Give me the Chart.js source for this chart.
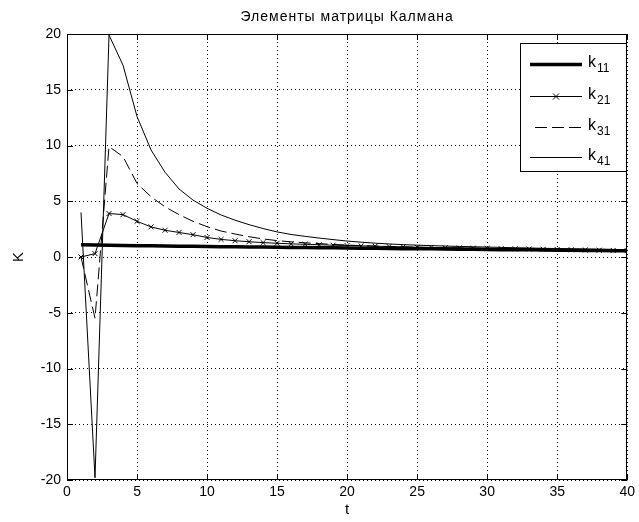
<!DOCTYPE html>
<html>
<head>
<meta charset="utf-8">
<script src="https://cdn.jsdelivr.net/npm/chart.js@4.4.0/dist/chart.umd.min.js"></script>
<style>
html,body{margin:0;padding:0;background:#fff}
canvas{display:block}
</style>
</head>
<body>
<canvas id="kalman" width="639" height="522"></canvas>
<script>
// time steps
const t=[1,2,3,4,5,6,7,8,9,10,11,12,13,14,15,16,17,18,19,20,21,22,23,24,25,26,27,28,29,30,31,32,33,34,35,36,37,38,39,40];
// gain elements
const k11=[1.10,1.08,1.06,1.04,1.02,1.00,0.99,0.97,0.96,0.95,0.93,0.92,0.90,0.89,0.87,0.86,0.85,0.83,0.82,0.81,0.79,0.78,0.77,0.75,0.74,0.73,0.71,0.70,0.69,0.68,0.66,0.65,0.64,0.63,0.61,0.60,0.59,0.58,0.57,0.55];
const k21=[0.0,0.3,3.9,3.8,3.2,2.7,2.4,2.2,2.0,1.75,1.58,1.46,1.37,1.29,1.23,1.18,1.14,1.10,1.06,1.03,1.00,0.97,0.94,0.91,0.88,0.86,0.83,0.81,0.79,0.77,0.75,0.73,0.71,0.69,0.67,0.65,0.63,0.61,0.59,0.57];
const k31=[0.0,-5.5,9.9,9.0,6.6,5.4,4.5,3.8,3.2,2.72,2.33,2.06,1.82,1.62,1.47,1.36,1.27,1.20,1.13,1.07,1.02,0.98,0.94,0.91,0.88,0.85,0.83,0.81,0.79,0.77,0.75,0.73,0.71,0.70,0.68,0.67,0.65,0.64,0.62,0.61];
const k41=[4.0,-19.8,19.9,17.2,12.6,9.6,7.6,6.1,5.1,4.37,3.77,3.3,2.9,2.55,2.25,2.02,1.85,1.70,1.56,1.43,1.33,1.24,1.17,1.11,1.06,1.02,0.98,0.95,0.92,0.89,0.86,0.83,0.81,0.78,0.76,0.74,0.72,0.70,0.68,0.66];
// axis ticks
const xTicks=[0,5,10,15,20,25,30,35,40];
const yTicks=[-20,-15,-10,-5,0,5,10,15,20];
const legendNames=["11","21","31","41"];
const title="Элементы матрицы Калмана";

const FONT='"Liberation Sans",Arial,sans-serif';
const pts=arr=>arr.map((v,i)=>({x:t[i],y:v}));

// matlab-style frame, inward ticks, title and legend with subscripts
const matlabFrame={
  id:"matlabFrame",
  afterDatasetsDraw(chart){
    const {ctx,chartArea:a,scales:{x,y}}=chart;
    ctx.save();
    ctx.strokeStyle="#000";ctx.lineWidth=1;ctx.setLineDash([]);
    ctx.strokeRect(Math.round(a.left)+0.5,Math.round(a.top)+0.5,Math.round(a.right-a.left)-1,Math.round(a.bottom-a.top)-1);
    ctx.beginPath();
    xTicks.forEach(v=>{const px=Math.round(x.getPixelForValue(v))+0.5;
      ctx.moveTo(px,a.bottom);ctx.lineTo(px,a.bottom-6);
      ctx.moveTo(px,a.top);ctx.lineTo(px,a.top+6);});
    yTicks.forEach(v=>{const py=Math.round(y.getPixelForValue(v))+0.5;
      ctx.moveTo(a.left,py);ctx.lineTo(a.left+6,py);
      ctx.moveTo(a.right,py);ctx.lineTo(a.right-6,py);});
    ctx.stroke();
    ctx.fillStyle="#000";ctx.font="14px "+FONT;ctx.textAlign="center";ctx.textBaseline="middle";
    ctx.letterSpacing="1px";
    ctx.fillText(title,(a.left+a.right)/2,17);
    ctx.restore();
  },
  afterDraw(chart){
    const ctx=chart.ctx;
    const bx=520.5,by=43.5,bw=106,bh=128;
    ctx.save();
    ctx.fillStyle="#fff";ctx.fillRect(bx,by,bw,bh);
    ctx.strokeStyle="#000";ctx.lineWidth=1;ctx.strokeRect(bx,by,bw,bh);
    const rows=[64,96,127,157];
    chart.data.datasets.forEach((ds,i)=>{
      const yy=rows[i]+0.5;
      ctx.beginPath();
      ctx.lineWidth=ds.borderWidth;ctx.setLineDash(ds.borderDash||[]);
      ctx.moveTo(i===2?535:530,yy);ctx.lineTo(582,yy);ctx.stroke();
      ctx.setLineDash([]);
      if(ds.pointRadius){ctx.lineWidth=1;ctx.beginPath();
        ctx.moveTo(553,yy-3);ctx.lineTo(559,yy+3);ctx.moveTo(559,yy-3);ctx.lineTo(553,yy+3);ctx.stroke();}
      ctx.fillStyle="#000";ctx.textBaseline="middle";ctx.textAlign="left";
      ctx.font="16px "+FONT;ctx.fillText("k",588,rows[i]-1);
      ctx.font="12px "+FONT;ctx.fillText(legendNames[i],597,rows[i]+5);
    });
    ctx.restore();
  }
};

new Chart(document.getElementById("kalman"),{
  type:"line",
  data:{datasets:[
    {label:"k11",data:pts(k11),borderColor:"#000",borderWidth:3.5,pointRadius:0,tension:0},
    {label:"k21",data:pts(k21),borderColor:"#000",borderWidth:1,pointStyle:"crossRot",pointRadius:3.5,pointBorderWidth:1,pointBorderColor:"#000",tension:0},
    {label:"k31",data:pts(k31),borderColor:"#000",borderWidth:1,borderDash:[12,5],pointRadius:0,tension:0},
    {label:"k41",data:pts(k41),borderColor:"#000",borderWidth:1,pointRadius:0,tension:0}
  ]},
  options:{
    responsive:false,animation:false,
    layout:{padding:{top:34,right:10,left:0,bottom:0}},
    plugins:{legend:{display:false},tooltip:{enabled:false},title:{display:false}},
    scales:{
      x:{type:"linear",min:0,max:40,
        afterFit:s=>{s.height=42},
        afterBuildTicks:s=>{s.ticks=xTicks.map(v=>({value:v}))},
        grid:{color:"#000",lineWidth:1,drawTicks:false},
        border:{display:false,dash:[1,3]},
        ticks:{color:"#000",font:{size:14,family:FONT},padding:4,maxRotation:0},
        title:{display:true,text:"t",color:"#000",font:{size:15,family:FONT},padding:{top:0,bottom:3}}},
      y:{type:"linear",min:-20,max:20,
        afterFit:s=>{s.width=67},
        afterBuildTicks:s=>{s.ticks=yTicks.map(v=>({value:v}))},
        grid:{color:"#000",lineWidth:1,drawTicks:false},
        border:{display:false,dash:[1,3]},
        ticks:{color:"#000",font:{size:14,family:FONT},padding:6},
        title:{display:true,text:"K",color:"#000",font:{size:15,family:FONT},padding:{top:10,bottom:0}}}
    }
  },
  plugins:[matlabFrame]
});
</script>
</body>
</html>
